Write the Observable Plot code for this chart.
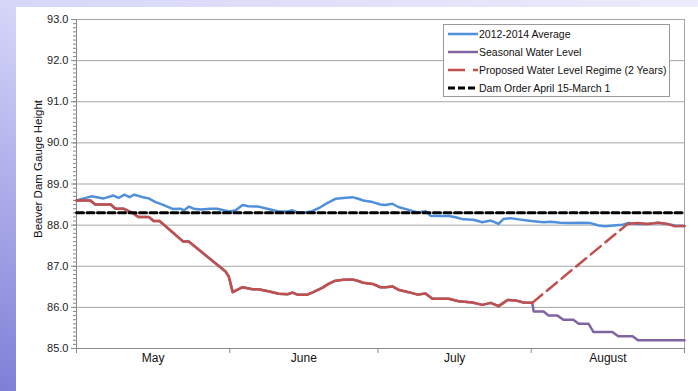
<!DOCTYPE html>
<html><head><meta charset="utf-8">
<script src="https://cdn.jsdelivr.net/npm/d3@7"></script>
<script src="https://cdn.jsdelivr.net/npm/@observablehq/plot@0.6"></script>
<style>
html,body{margin:0;padding:0;}
body{width:698px;height:391px;overflow:hidden;position:relative;font-family:"Liberation Sans",Arial,sans-serif;
background:linear-gradient(to top right,#7e7ed8 0%,#d6d6f9 50%,#ececfc 100%);}
#panel{position:absolute;left:16px;top:7px;width:682px;height:384px;background:#fff;}
#chart{position:absolute;left:0;top:0;}
#ytitle{position:absolute;left:38px;top:169px;transform:translate(-50%,-50%) rotate(-90deg);font-size:11.5px;white-space:nowrap;color:#111;}
#legend{position:absolute;left:443px;top:24px;width:225px;height:71px;border:1px solid #9a9a9a;background:#fff;font-size:10.5px;color:#111;}
#legend .row{height:18px;display:flex;align-items:center;padding-left:4px;white-space:nowrap;}
#legend svg{margin-right:1px;flex:none;}
</style>
</head><body>
<div id="panel"></div>
<div id="chart"></div>
<div id="ytitle">Beaver Dam Gauge Height</div>
<div id="legend"></div>
<script>
// x = days since May 1
const monthNames = ["May","June","July","August"];
const monthStarts = [0,31,61,92,123];
const yTickValues = [85,86,87,88,89,90,91,92,93];

const seriesNames = ["2012-2014 Average","Seasonal Water Level","Proposed Water Level Regime (2 Years)","Dam Order April 15-March 1"];

const averageDay = [0,3,5.5,7.5,8.5,9.7,10.7,11.7,13.4,14.6,16,17.4,18.6,19.6,21,21.8,22.7,23.7,25.1,27.1,28.5,29.7,31,32.2,33.6,34.8,36.8,38.8,40.9,42.7,43.7,44.7,46.3,47.7,49.4,50.8,52.4,54,55.8,57,58,59.9,61.5,62.5,63.9,65.1,67.2,69,70.6,71.6,73.2,75.3,76.7,78.3,80.3,82.1,83.8,85.4,86.4,87.8,89.4,91.2,92.9,94.5,95.9,97.9,99.9,102,104,105.6,107,108.6,110.5,111.7,113.5,115.5,117.7,119.5,121.1,123];
const averageVal = [88.60,88.70,88.65,88.72,88.66,88.74,88.68,88.74,88.68,88.65,88.56,88.50,88.44,88.39,88.40,88.36,88.45,88.40,88.38,88.40,88.40,88.36,88.33,88.36,88.49,88.46,88.45,88.39,88.33,88.33,88.36,88.31,88.31,88.34,88.44,88.54,88.64,88.66,88.68,88.64,88.60,88.56,88.50,88.49,88.52,88.44,88.37,88.31,88.34,88.23,88.22,88.22,88.19,88.14,88.13,88.07,88.11,88.03,88.15,88.17,88.14,88.11,88.09,88.07,88.08,88.06,88.05,88.06,88.05,87.99,87.97,87.99,88.01,88.05,88.03,88.03,88.06,88.03,87.99,87.98];

const seasonalDay = [0,2.8,3.8,6.9,7.9,9.5,11.3,12.5,14.6,15.6,16.8,21.6,22.7,30.1,30.8,31.6,33.6,35.6,36.8,38.8,40.9,42.7,43.7,44.7,46.7,47.9,49.8,51,52.4,54,55.8,57,58,59.9,61.5,62.5,63.9,65.1,67.2,69,70.6,72,75.3,77.3,80.1,82.1,83.8,85.4,87.2,88.8,90.4,92.2,92.5,94.5,95.5,97.3,98.5,100.5,101.6,103.6,104.6,108.4,109.6,112.5,113.6,123];
const seasonalVal = [88.60,88.60,88.50,88.50,88.40,88.40,88.30,88.20,88.20,88.10,88.10,87.60,87.60,86.88,86.75,86.37,86.49,86.44,86.44,86.39,86.33,86.32,86.36,86.31,86.31,86.37,86.48,86.57,86.65,86.67,86.68,86.64,86.60,86.57,86.49,86.49,86.51,86.43,86.37,86.31,86.34,86.21,86.21,86.15,86.12,86.06,86.11,86.03,86.18,86.17,86.12,86.11,85.90,85.90,85.80,85.80,85.70,85.70,85.60,85.60,85.40,85.40,85.30,85.30,85.20,85.20];

const proposedDay = [0,2.8,3.8,6.9,7.9,9.5,11.3,12.5,14.6,15.6,16.8,21.6,22.7,30.1,30.8,31.6,33.6,35.6,36.8,38.8,40.9,42.7,43.7,44.7,46.7,47.9,49.8,51,52.4,54,55.8,57,58,59.9,61.5,62.5,63.9,65.1,67.2,69,70.6,72,75.3,77.3,80.1,82.1,83.8,85.4,87.2,88.8,90.4,92.2,111.5,113.5,115.5,117.7,119.5,121.1,123];
const proposedVal = [88.60,88.60,88.50,88.50,88.40,88.40,88.30,88.20,88.20,88.10,88.10,87.60,87.60,86.88,86.75,86.37,86.49,86.44,86.44,86.39,86.33,86.32,86.36,86.31,86.31,86.37,86.48,86.57,86.65,86.67,86.68,86.64,86.60,86.57,86.49,86.49,86.51,86.43,86.37,86.31,86.34,86.21,86.21,86.15,86.12,86.06,86.11,86.03,86.18,86.17,86.12,86.11,88.03,88.05,88.03,88.06,88.03,87.97,87.98];
const refillStart = 92.2, refillEnd = 111.5; // projected (dashed) refill period

const damOrderDay = [0,123];
const damOrderVal = [88.3,88.3];

const colors = ["#4f8fdc","#8064a2","#c0504d","#000000"];

const toRows = (xs, ys) => xs.map((d,i)=>({day:d, v:ys[i]}));
const average = toRows(averageDay, averageVal);
const seasonal = toRows(seasonalDay, seasonalVal);
const proposed = toRows(proposedDay, proposedVal);
const damOrder = toRows(damOrderDay, damOrderVal);
const prop1 = proposed.filter(d=>d.day<=refillStart);
const propDash = proposed.filter(d=>d.day>=refillStart && d.day<=refillEnd);
const prop2 = proposed.filter(d=>d.day>=refillEnd);

const yMinor = d3.range(850,931,1).map(v=>v/10);
const monthMids = monthNames.map((m,i)=>(monthStarts[i]+monthStarts[i+1])/2);

const chart = Plot.plot({
  width:698, height:391,
  marginLeft:76, marginRight:14, marginTop:19, marginBottom:43,
  style:{background:"transparent", fontFamily:"Liberation Sans, Arial, sans-serif", fontSize:"11px", color:"#222", overflow:"visible"},
  x:{domain:[0,123], axis:null},
  y:{domain:[85,93], axis:null},
  marks:[
    Plot.gridY(yTickValues,{stroke:"#a6a6a6", strokeOpacity:1}),
    Plot.ruleX([123],{stroke:"#a6a6a6"}),
    Plot.axisY(yMinor,{tickSize:3, tickFormat:()=>"", stroke:"#8a8a8a", label:null}),
    Plot.axisY(yTickValues,{tickSize:5, tickPadding:3, tickFormat:d=>d.toFixed(1), stroke:"#8a8a8a", fill:"#222", fontSize:11, label:null}),
    Plot.ruleX([0],{stroke:"#8a8a8a"}),
    Plot.ruleY([85],{stroke:"#8a8a8a"}),
    Plot.axisX(monthStarts,{tickSize:5, tickFormat:()=>"", stroke:"#8a8a8a", label:null}),
    Plot.axisX(monthMids,{tickSize:0, tickPadding:5, tickFormat:d=>monthNames[monthMids.indexOf(d)], fill:"#111", fontSize:12, label:null}),
    Plot.line(average,{x:"day", y:"v", stroke:colors[0], strokeWidth:2.5}),
    Plot.line(seasonal,{x:"day", y:"v", stroke:colors[1], strokeWidth:2.5}),
    Plot.line(prop1,{x:"day", y:"v", stroke:colors[2], strokeWidth:2.5}),
    Plot.line(propDash,{x:"day", y:"v", stroke:colors[2], strokeWidth:2.5, strokeDasharray:"13,6"}),
    Plot.line(prop2,{x:"day", y:"v", stroke:colors[2], strokeWidth:2.5}),
    Plot.line(damOrder,{x:"day", y:"v", stroke:colors[3], strokeWidth:3, strokeDasharray:"7,3.5"})
  ]
});
document.getElementById("chart").appendChild(chart);

const dashes = [null, null, "17,8", "7,3"];
const widths = [2.5, 2.5, 2.5, 3];
const legend = document.getElementById("legend");
seriesNames.forEach((name,i)=>{
  const row = document.createElement("div");
  row.className = "row";
  row.innerHTML = `<svg width="30" height="6"><line x1="0" y1="3" x2="30" y2="3" stroke="${colors[i]}" stroke-width="${widths[i]}" ${dashes[i]?`stroke-dasharray="${dashes[i]}"`:""}/></svg><span>${name}</span>`;
  legend.appendChild(row);
});
</script>
</body></html>
